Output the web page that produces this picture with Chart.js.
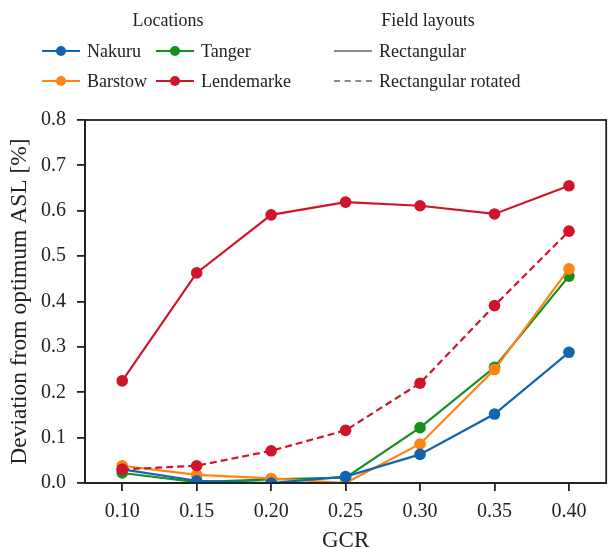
<!DOCTYPE html>
<html>
<head>
<meta charset="utf-8">
<script src="https://cdn.jsdelivr.net/npm/chart.js@4"></script>
<style>
    html, body { margin: 0; padding: 0; background: #fff; }
    #wrap { position: relative; width: 612px; height: 549px; font-family: "Liberation Serif", serif; color: #222; }
    #chart { position: absolute; left: 0; top: 0; }
    .leg { position: absolute; font-size: 18px; white-space: nowrap; line-height: 1; }
    .ttl { position: absolute; font-size: 18px; transform: translateX(-50%); white-space: nowrap; }
    .mark { display: inline-block; position: relative; width: 38px; height: 0; border-top: 2px solid; vertical-align: middle; margin-right: 7px; top: -2px; }
    .mark i { position: absolute; left: 14px; top: -6px; width: 10px; height: 10px; border-radius: 50%; }
    .dash { border-top-style: dashed; }
</style>
</head>
<body>
<div id="wrap">
    <canvas id="chart" width="612" height="549"></canvas>
    <div class="ttl" style="left:168px; top:10px;">Locations</div>
    <div class="ttl" style="left:428px; top:10px;">Field layouts</div>
    <div id="legend-loc"></div>
    <div class="leg" style="left:334px; top:42px;"><span class="mark" style="border-color:#8a8a8a"></span>Rectangular</div>
    <div class="leg" style="left:334px; top:72px;"><span class="mark dash" style="border-color:#8a8a8a"></span>Rectangular rotated</div>
</div>
<script>
const gcr = [0.10, 0.15, 0.20, 0.25, 0.30, 0.35, 0.40];
const xTicks = [0.10, 0.15, 0.20, 0.25, 0.30, 0.35, 0.40];
const yTicks = [0.0, 0.1, 0.2, 0.3, 0.4, 0.5, 0.6, 0.7, 0.8];

const nakuru = [0.030, 0.005, 0.000, 0.014, 0.063, 0.152, 0.288];
const barstow = [0.038, 0.018, 0.010, 0.000, 0.086, 0.250, 0.472];
const tanger = [0.022, 0.002, 0.008, 0.012, 0.122, 0.255, 0.456];
const lendemarke = [0.225, 0.463, 0.591, 0.619, 0.611, 0.593, 0.655];
const lendemarkeRotated = [0.030, 0.038, 0.071, 0.116, 0.220, 0.391, 0.555];

const colors = {
    Nakuru: '#1064b2',
    Barstow: '#ff8412',
    Tanger: '#14901f',
    Lendemarke: '#d0152b'
};

function series(label, values, color, dashed) {
    return {
        label: label,
        data: values.map((v, i) => ({ x: gcr[i], y: v })),
        borderColor: color,
        backgroundColor: color,
        borderWidth: 2.2,
        borderDash: dashed ? [7, 4] : [],
        pointRadius: 5.8,
        pointHoverRadius: 5.8,
        pointBorderWidth: 0,
        tension: 0
    };
}

// legend for locations, two columns
const legendLoc = document.getElementById('legend-loc');
[['Nakuru', 42, 42], ['Tanger', 156, 42], ['Barstow', 42, 72], ['Lendemarke', 156, 72]].forEach(([name, left, top]) => {
    const div = document.createElement('div');
    div.className = 'leg';
    div.style.left = left + 'px';
    div.style.top = top + 'px';
    div.innerHTML = `<span class="mark" style="border-color:${colors[name]}"><i style="background:${colors[name]}"></i></span>${name}`;
    legendLoc.appendChild(div);
});

// box around the plot area like matplotlib spines
const frame = {
    id: 'frame',
    afterDraw(chart) {
        const a = chart.chartArea;
        const ctx = chart.ctx;
        ctx.save();
        ctx.strokeStyle = '#222';
        ctx.lineWidth = 1.8;
        ctx.strokeRect(a.left, a.top, a.right - a.left, a.bottom - a.top);
        ctx.restore();
    }
};

new Chart(document.getElementById('chart'), {
    type: 'line',
    data: {
        datasets: [
            series('Lendemarke rotated', lendemarkeRotated, colors.Lendemarke, true),
            series('Nakuru', nakuru, colors.Nakuru, false),
            series('Barstow', barstow, colors.Barstow, false),
            series('Tanger', tanger, colors.Tanger, false),
            series('Lendemarke', lendemarke, colors.Lendemarke, false)
        ]
    },
    options: {
        responsive: false,
        animation: false,
        layout: { padding: { top: 120, right: 4, left: 0, bottom: 0 } },
        plugins: {
            legend: { display: false },
            tooltip: { enabled: false }
        },
        scales: {
            x: {
                type: 'linear',
                min: 0.075,
                max: 0.425,
                afterBuildTicks: s => { s.ticks = xTicks.map(v => ({ value: v })); },
                afterFit: s => { s.height = 66; },
                ticks: {
                    color: '#222',
                    font: { family: 'Liberation Serif', size: 20 },
                    padding: 9,
                    maxRotation: 0,
                    callback: v => v.toFixed(2)
                },
                grid: { drawOnChartArea: false, drawTicks: true, tickLength: 8, color: '#222', lineWidth: 1.8 },
                border: { display: true, color: '#222', width: 1.8 },
                title: {
                    display: true,
                    text: 'GCR',
                    color: '#222',
                    font: { family: 'Liberation Serif', size: 23 },
                    padding: { top: 2, bottom: -6 }
                }
            },
            y: {
                min: 0,
                max: 0.8,
                afterBuildTicks: s => { s.ticks = yTicks.map(v => ({ value: v })); },
                afterFit: s => { s.width = 85; },
                ticks: {
                    color: '#222',
                    font: { family: 'Liberation Serif', size: 20 },
                    padding: 11,
                    callback: v => v.toFixed(1)
                },
                grid: { drawOnChartArea: false, drawTicks: true, tickLength: 8, color: '#222', lineWidth: 1.8 },
                border: { display: true, color: '#222', width: 1.8 },
                title: {
                    display: true,
                    text: 'Deviation from optimum ASL [%]',
                    color: '#222',
                    font: { family: 'Liberation Serif', size: 23.5 },
                    padding: { top: 6, bottom: 0 }
                }
            }
        }
    },
    plugins: [frame]
});
</script>
</body>
</html>
